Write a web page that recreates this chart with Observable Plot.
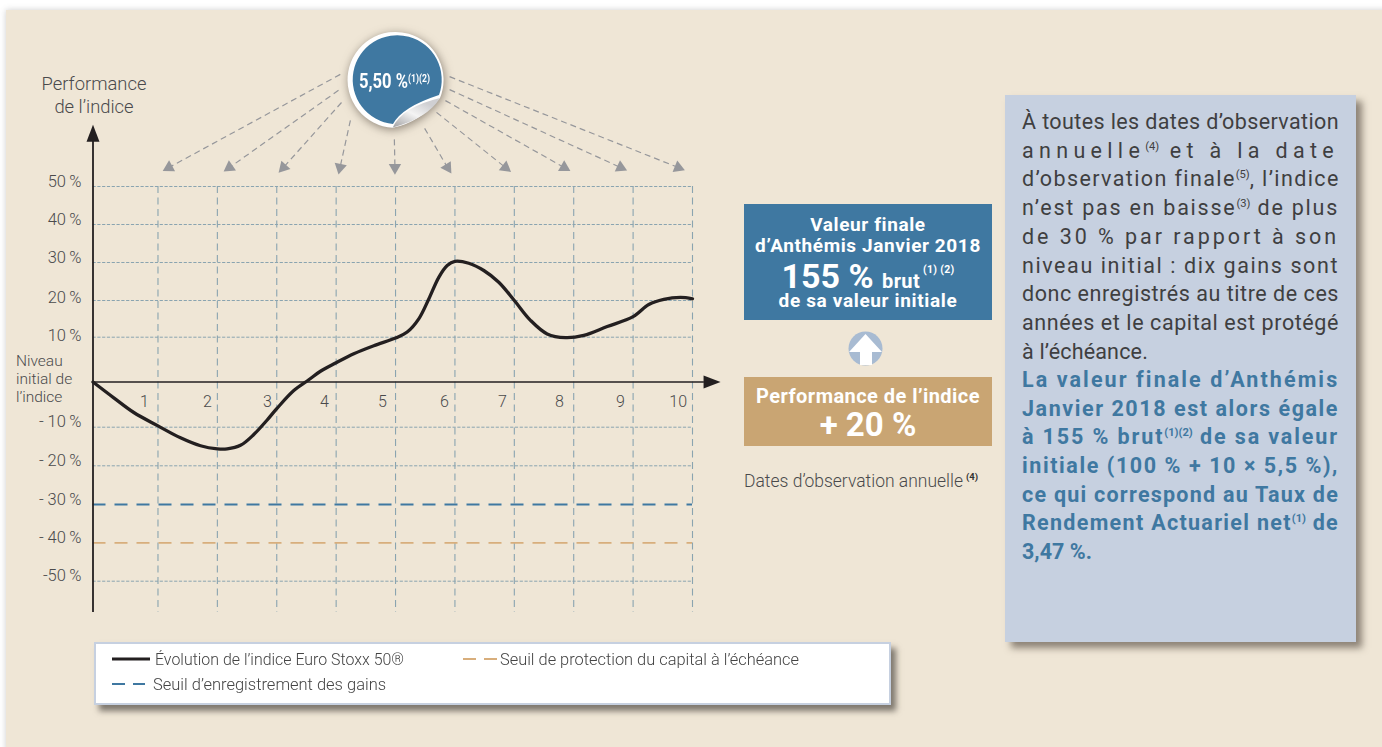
<!DOCTYPE html>
<html lang="fr">
<head>
<meta charset="utf-8">
<script src="https://cdn.jsdelivr.net/npm/d3@7"></script>
<script src="https://cdn.jsdelivr.net/npm/@observablehq/plot@0.6"></script>
<style>
  html,body{margin:0;padding:0;background:#fff;}
  #page{position:relative;width:1382px;height:747px;overflow:hidden;font-family:Roboto,sans-serif;color:#4a4a4c;}
  #panel{position:absolute;left:6px;top:10px;right:-20px;bottom:-20px;background:#efe6d6;box-shadow:0 0 6px rgba(90,90,90,.3);}
  #chart{position:absolute;left:0;top:0;}
  .t{position:absolute;white-space:nowrap;font-weight:300;line-height:1;}
  .box{position:absolute;color:#fff;font-weight:700;}
  .box .c{position:absolute;left:0;right:0;text-align:center;white-space:nowrap;line-height:1;}
  sup{font-size:.52em;line-height:0;vertical-align:baseline;position:relative;top:-.72em;}
  #note{position:absolute;left:1005px;top:95px;width:351px;height:547px;background:#c6d0e0;box-shadow:6px 6px 7px rgba(60,50,40,.55);}
  #note .l{position:absolute;left:17px;white-space:nowrap;font-size:21.5px;line-height:1;font-weight:400;color:#3f3f41;}
  #note .b{font-weight:700;color:#3f78a1;}
  #note sup{letter-spacing:0;}
  #legend{position:absolute;left:94px;top:642px;width:793px;height:59px;background:#fff;border:2px solid #c6d0e0;box-shadow:5px 6px 6px rgba(50,45,40,.6);}
  #legend .s{position:absolute;transform-origin:left center;white-space:nowrap;font-size:17px;line-height:1;font-weight:300;color:#444;}
  #legend svg{position:absolute;left:0;top:0;overflow:visible;}
</style>
</head>
<body>
<div id="page">
  <div id="panel"></div>
  <div id="chart"></div>

  <div class="t" style="left:41px;top:75px;font-size:18.4px;width:106px;text-align:center;">Performance</div>
  <div class="t" style="left:41px;top:98px;font-size:18.4px;width:106px;text-align:center;">de l’indice</div>
  <div class="t" style="left:16px;top:354px;font-size:15.5px;">Niveau</div>
  <div class="t" style="left:16px;top:372px;font-size:15.5px;">initial de</div>
  <div class="t" style="left:16px;top:390px;font-size:15.5px;">l’indice</div>

  <svg id="sticker" width="1382" height="747" style="position:absolute;left:0;top:0;pointer-events:none;">
    <defs>
      <linearGradient id="curl" x1="0.1" y1="1" x2="0.75" y2="0.2">
        <stop offset="0" stop-color="#a9a9ab"/><stop offset="0.55" stop-color="#f4f4f4"/><stop offset="1" stop-color="#cfcfd2"/>
      </linearGradient>
    </defs>
    <g style="filter:drop-shadow(1px 2px 5px rgba(60,50,40,.55));">
      <path d="M440,98 A48,48 0 1 0 392.7,127.8 Q419,123 440,98 Z" fill="#fff"/>
    </g>
    <path d="M439,95 A44.5,44.5 0 1 0 393,124 Q402,107 439,95 Z" fill="#3f78a1"/>
    <path d="M392.7,127.5 Q402,107 440,98 Q428,118 392.7,127.5 Z" fill="url(#curl)"/>
  </svg>
  <div class="t" style="left:359px;top:71px;font-size:20px;font-weight:700;color:#fff;" data-fit="71">5,50 %<sup style="font-size:.52em;top:-.55em;">(1)(2)</sup></div>

  <div class="box" style="left:744px;top:204px;width:248px;height:116px;background:#3f78a1;">
    <div class="c" style="top:11px;font-size:19px;letter-spacing:.6px;">Valeur finale</div>
    <div class="c" style="top:32px;font-size:19px;letter-spacing:.6px;">d’Anthémis Janvier 2018</div>
    <div class="c" style="top:55px;font-size:34px;"><span>155 %</span> <span style="font-size:20px;letter-spacing:.4px;">brut</span><sup style="font-size:10.5px;top:-15px;letter-spacing:.3px;"> (1) (2)</sup></div>
    <div class="c" style="top:87px;font-size:19px;letter-spacing:.65px;">de sa valeur initiale</div>
  </div>

  <svg width="1382" height="747" style="position:absolute;left:0;top:0;pointer-events:none;">
    <circle cx="865.5" cy="348.5" r="17" fill="#a8bbd2"/>
    <path d="M849,352 L865.5,334 L882,352 L872,352 L872,365 L860,365 L860,352 Z" fill="#fff"/>
  </svg>

  <div class="box" style="left:744px;top:377px;width:248px;height:69px;background:#c9a573;">
    <div class="c" style="top:9px;font-size:20px;letter-spacing:.45px;">Performance de l’indice</div>
    <div class="c" style="top:31px;font-size:33px;">+ 20 %</div>
  </div>

  <div class="t" style="left:744px;top:473px;font-size:17.5px;">Dates d’observation annuelle<sup style="font-weight:700;font-size:9.5px;top:-7px;color:#333;margin-left:3px;">(4)</sup></div>

  <div id="note"></div>

  <div id="legend">
    <svg width="793" height="59">
      <line x1="16" x2="54" y1="15" y2="15" stroke="#231f20" stroke-width="3"/>
      <line x1="367" x2="401" y1="15" y2="15" stroke="#d8ae7c" stroke-width="2" stroke-dasharray="13,8"/>
      <line x1="16" x2="49" y1="40" y2="40" stroke="#3f78a1" stroke-width="2" stroke-dasharray="13,8"/>
    </svg>
    <div class="s" style="left:59px;top:7px;" data-scale="249">Évolution de l’indice Euro Stoxx 50®</div>
    <div class="s" style="left:404px;top:7px;" data-scale="299">Seuil de protection du capital à l’échéance</div>
    <div class="s" style="left:57px;top:32px;" data-scale="233">Seuil d’enregistrement des gains</div>
  </div>
</div>

<script>
// --- Data ---
const years = [-0.094,0.256,0.593,1,1.379,1.716,2,2.165,2.389,2.613,2.839,3,3.287,3.539,3.736,4,4.297,4.634,5,5.196,5.391,5.56,5.728,5.87,6,6.233,6.486,6.738,7,7.272,7.553,7.862,8.17,8.564,9,9.264,9.517,9.798,10];
const performance = [0,-3.5,-6.75,-9.7,-12.75,-14.8,-15.6,-15.6,-14.7,-11.9,-8.4,-5.9,-1.9,0.5,2.4,4.3,6.3,8.1,9.8,11.4,15,20.4,26.1,29.2,30.3,29.8,27.9,24.8,20,14.6,10.9,9.9,10.5,12.9,15.6,18.9,20.3,20.8,20.45];
const observationDates = [1,2,3,4,5,6,7,8,9,10];
const dateLabelX = [0.773,1.833,2.844,3.804,4.78,5.824,6.8,7.76,8.787,9.76];
const gridLevels = [50,40,30,20,10,-10,-20,-50];
const yTickLabels = {"50":"50\u2009%","40":"40\u2009%","30":"30\u2009%","20":"20\u2009%","10":"10\u2009%","-10":"- 10\u2009%","-20":"- 20\u2009%","-30":"- 30\u2009%","-40":"- 40\u2009%","-50":"-50\u2009%"};
const yTickGroups = [[[50,40,30],-4.5],[[20],-2.4],[[10],-1.7],[[-10,-20,-30,-40,-50],-5]];
const gainThreshold = -30;
const protectionThreshold = -40;
const couponStartX = [4.07,4.04,4.09,4.24,4.98,5.49,5.69,5.84,5.91,5.91];
const couponStartY = [79.5,75.3,72.1,67.4,62.4,65.3,69.5,72.6,75.5,78.9];
const couponEndX = [1.185,2.204,3.113,4.065,4.99,5.875,6.85,7.84,8.79,9.76];
const couponEndY = [55,55,55,55,55,55,55,55,55,55];
const couponAngle = [-119,-125,-137,-168,180,147,128,120,115,112];

const curve = years.map((x,i)=>({x,y:performance[i]}));
const coupons = couponStartX.map((_,i)=>({x1:couponStartX[i],y1:couponStartY[i],x2:couponEndX[i],y2:couponEndY[i],a:couponAngle[i]}));
const xMin = years[0], xMax = 10, yBottom = -58.2;

const head = {draw(c){c.moveTo(0,-17);c.lineTo(6.5,0);c.lineTo(-6.5,0);c.closePath();}};
const gridColor = "#8aa4b0";
const ink = "#231f20";

const chart = Plot.plot({
  width:1382, height:747,
  marginLeft:92.5, marginTop:0, marginRight:0, marginBottom:0,
  style:{background:"transparent",fontFamily:"Roboto,sans-serif",overflow:"visible"},
  x:{domain:[xMin,xMax],range:[92.5,692],axis:null},
  y:{type:"linear",
     domain:[100,50,40,30,20,10,0,-10,-20,-30,-40,-50,-60],
     range:[-4,186,224,262,300,336.7,381.5,426.7,465.3,504,542.3,580.7,619]},
  marks:[
    Plot.ruleX(observationDates,{y1:50,y2:yBottom,stroke:gridColor,strokeWidth:1.1,strokeDasharray:"7,4.5"}),
    Plot.ruleY(gridLevels,{x1:xMin,x2:xMax,stroke:gridColor,strokeWidth:1,strokeDasharray:"3.2,1.6"}),
    Plot.ruleY([gainThreshold],{x1:xMin,x2:xMax,stroke:"#3f78a1",strokeWidth:1.8,strokeDasharray:"13,9"}),
    Plot.ruleY([protectionThreshold],{x1:xMin,x2:xMax,stroke:"#d8ae7c",strokeWidth:1.8,strokeDasharray:"13,9"}),
    ...yTickGroups.map(([ticks,dy])=>Plot.axisY({ticks,tickFormat:d=>yTickLabels[d],tickSize:0,tickPadding:11.5,dy,fontSize:16.5,fontWeight:300,fill:"#4a4a4c",label:null})),
    Plot.link(coupons,{x1:"x1",y1:"y1",x2:"x2",y2:"y2",stroke:"#96979b",strokeWidth:1.2,strokeDasharray:"6,4"}),
    Plot.dot(coupons,{x:"x2",y:"y2",rotate:"a",r:4.6,symbol:"triangle",fill:"#96979b",stroke:"none"}),
    Plot.ruleX([xMin],{y1:yBottom,y2:62,stroke:ink,strokeWidth:1.8}),
    Plot.ruleY([0],{x1:xMin,x2:10.2,stroke:ink,strokeWidth:1.6}),
    Plot.dot([{x:xMin,y:61.8,a:0},{x:10.186,y:0,a:90}],{x:"x",y:"y",rotate:"a",r:5,symbol:head,fill:ink,stroke:"none"}),
    Plot.text(observationDates,{x:(d,i)=>dateLabelX[i],y:()=>-4.5,text:d=>String(d),fontSize:16,fontWeight:300,fill:"#4a4a4c"}),
    Plot.line(curve,{x:"x",y:"y",curve:"catmull-rom",stroke:ink,strokeWidth:3.3})
  ]
});
document.getElementById("chart").appendChild(chart);

// --- Text panel, lines ---
const noteLines = [
  ["À toutes les dates d’observation",0],
  ["annuelle<sup>(4)</sup> et à la date",0],
  ["d’observation finale<sup>(5)</sup>, l’indice",0],
  ["n’est pas en baisse<sup>(3)</sup> de plus",0],
  ["de 30 % par rapport à son",0],
  ["niveau initial : dix gains sont",0],
  ["donc enregistrés au titre de ces",0],
  ["années et le capital est protégé",0],
  ["à l’échéance.",0,true],
  ["La valeur finale d’Anthémis",1],
  ["Janvier 2018 est alors égale",1],
  ["à 155 % brut<sup>(1)(2)</sup> de sa valeur",1],
  ["initiale (100 % + 10 × 5,5 %),",1],
  ["ce qui correspond au Taux de",1],
  ["Rendement Actuariel net<sup>(1)</sup> de",1],
  ["3,47 %.",1,true]
];
const note = document.getElementById("note");
noteLines.forEach(([html,bold,last],i)=>{
  const d = document.createElement("div");
  d.className = "l"+(bold?" b":"");
  d.innerHTML = html;
  d.style.top = (i<9 ? 16+28.7*i : 274+28.65*(i-9))+"px";
  note.appendChild(d);
  const supChars = [...d.querySelectorAll("sup")].reduce((a,s)=>a+s.textContent.length,0);
  const n = d.textContent.length - supChars;
  const w = d.getBoundingClientRect().width;
  const target = last ? (bold?70:126) : 317;
  d.style.letterSpacing = ((target-w)/Math.max(1,n)).toFixed(3)+"px";
});
// squeeze legend labels to their measured widths in the reference
document.querySelectorAll("[data-scale]").forEach(el=>{
  const w = el.getBoundingClientRect().width;
  el.style.transform = `scaleX(${(+el.dataset.scale/w).toFixed(3)})`;
});
document.querySelectorAll("[data-fit]").forEach(el=>{
  const w = el.getBoundingClientRect().width;
  el.style.transformOrigin = "left center";
  el.style.transform = `scaleX(${(+el.dataset.fit/w).toFixed(3)})`;
});
</script>
</body>
</html>
